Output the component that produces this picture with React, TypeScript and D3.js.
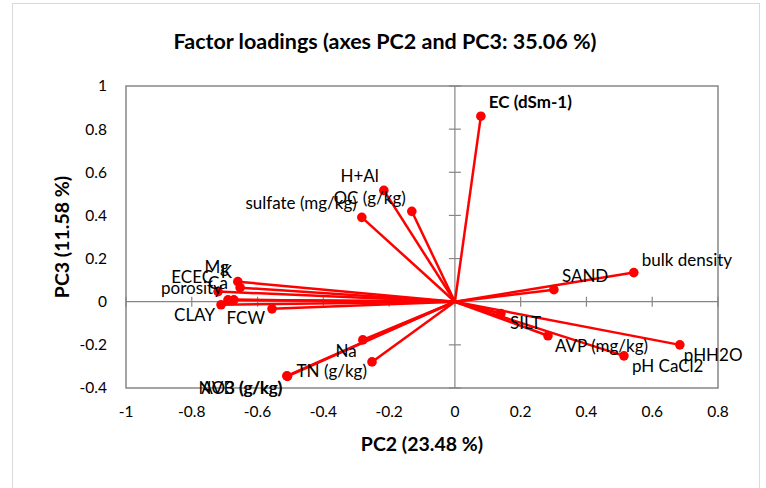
import React from "react";
import * as d3 from "d3";

const names = ["EC (dSm-1)", "H+Al", "OC (g/kg)", "sulfate (mg/kg)", "bulk density", "SAND", "SILT", "AVP (mg/kg)", "pHH2O", "pH CaCl2", "Na", "TN (g/kg)", "AVB (g/kg)", "NO3 (g/kg)", "Mg", "K", "ECEC", "Ca", "porosity", "CLAY", "FCW"];
const pc2 = [0.079, -0.216, -0.131, -0.283, 0.544, 0.301, 0.14, 0.283, 0.684, 0.514, -0.28, -0.252, -0.511, -0.509, -0.66, -0.653, -0.72, -0.672, -0.69, -0.711, -0.556];
const pc3 = [0.86, 0.516, 0.419, 0.391, 0.135, 0.056, -0.055, -0.158, -0.2, -0.251, -0.177, -0.279, -0.344, -0.346, 0.093, 0.065, 0.047, 0.009, 0.009, -0.014, -0.033];
// label placement (anchor side and offsets from the point)
const labelAnchor = ["start", "end", "end", "end", "start", "start", "start", "start", "start", "start", "end", "end", "end", "end", "end", "end", "end", "end", "end", "end", "end"];
const labelDx = [8, -5, -6, -5, 8, 8, 9, 7, 4, 8, -6, -5, -5, -5, -9, -8, -5, -6, -6, -6, -7];
const labelDy = [-14, -14, -13, -14, -13, -14, 9, 10, 10, 10, 11, 9, 12, 12, -15, -16, -15, -17, -12, 10, 9];
const labelBold = [true, false, false, false, false, false, false, false, false, false, false, false, false, false, false, false, false, false, false, false, false];

const xTicks = [-1, -0.8, -0.6, -0.4, -0.2, 0, 0.2, 0.4, 0.6, 0.8];
const yTicks = [-0.4, -0.2, 0, 0.2, 0.4, 0.6, 0.8, 1];

const title = "Factor loadings (axes PC2 and PC3: 35.06 %)";
const xTitle = "PC2 (23.48 %)";
const yTitle = "PC3 (11.58 %)";

const W = 766, H = 488;
const L = 126, R = 718, T = 86, B = 388;
const FONT = "Lato, 'Noto Sans', sans-serif";

export default function App() {
  const x = d3.scaleLinear().domain([-1, 0.8]).range([L, R]);
  const y = d3.scaleLinear().domain([-0.4, 1]).range([B, T]);
  const axisColor = "#868686";
  const fmt = (v: number) => String(Math.round(v * 10) / 10);
  return (
    <div style={{ position: "absolute", left: 0, top: 0 }}>
      <svg width={W} height={H} style={{ display: "block" }} fontFamily={FONT}>
        <rect x={0} y={0} width={W} height={H} fill="#fff" />
        <rect x={12.5} y={3.5} width={747} height={490} fill="none" stroke="#d9d9d9" strokeWidth={1} />
        <text x={385} y={49} textAnchor="middle" fontSize={21.5} fontWeight="bold" fill="#000">{title}</text>
        <rect x={L} y={T} width={R - L} height={B - T} fill="none" stroke={axisColor} strokeWidth={1.5} />
        {/* zero axes */}
        <line x1={L} x2={R} y1={y(0)} y2={y(0)} stroke={axisColor} strokeWidth={1.2} />
        <line x1={x(0)} x2={x(0)} y1={T} y2={B} stroke={axisColor} strokeWidth={1.2} />
        {xTicks.map((t, i) => (
          <line key={"xt" + i} x1={x(t)} x2={x(t)} y1={y(0) - 5} y2={y(0) + 5} stroke={axisColor} strokeWidth={1.2} />
        ))}
        {yTicks.map((t, i) => (
          <line key={"yt" + i} x1={x(0) - 6} x2={x(0) + 6} y1={y(t)} y2={y(t)} stroke={axisColor} strokeWidth={1.2} />
        ))}
        {xTicks.map((t, i) => (
          <text key={"xl" + i} x={x(t)} y={412} dy="0.35em" textAnchor="middle" fontSize={15.5} fill="#000">{fmt(t)}</text>
        ))}
        {yTicks.map((t, i) => (
          <text key={"yl" + i} x={107} y={y(t)} dy="0.35em" textAnchor="end" fontSize={15.5} fill="#000">{fmt(t)}</text>
        ))}
        <text x={(L + R) / 2} y={444} dy="0.35em" textAnchor="middle" fontSize={19.5} fontWeight="bold" fill="#000">{xTitle}</text>
        <text transform={`translate(62,${(T + B) / 2}) rotate(-90)`} dy="0.35em" textAnchor="middle" fontSize={19.5} fontWeight="bold" fill="#000">{yTitle}</text>
        {names.map((n, i) => (
          <line key={"ln" + i} x1={x(0)} y1={y(0)} x2={x(pc2[i])} y2={y(pc3[i])} stroke="#ff0000" strokeWidth={2.5} />
        ))}
        {names.map((n, i) => (
          <circle key={"pt" + i} cx={x(pc2[i])} cy={y(pc3[i])} r={4.8} fill="#ff0000" />
        ))}
        {names.map((n, i) => (
          <text key={"lb" + i} x={x(pc2[i]) + labelDx[i]} y={y(pc3[i]) + labelDy[i]} dy="0.35em" textAnchor={labelAnchor[i]} fontSize={17} fontWeight={labelBold[i] ? "bold" : "normal"} fill="#000">{n}</text>
        ))}
      </svg>
    </div>
  );
}
